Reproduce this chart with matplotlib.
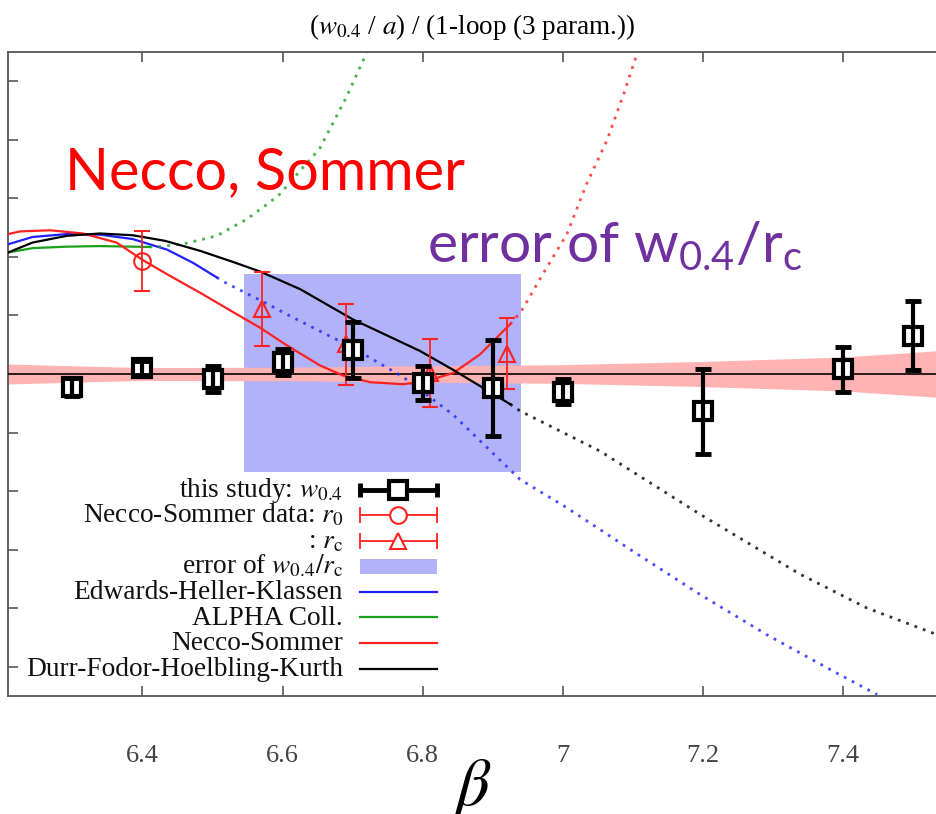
import matplotlib
matplotlib.use("Agg")
import matplotlib.pyplot as plt
from matplotlib.patches import Rectangle

plt.rcParams['font.family'] = ['Liberation Serif', 'DejaVu Serif']
plt.rcParams['mathtext.fontset'] = 'stix'
# fonts for math_fontfamily='custom' (the slide annotations)
plt.rcParams['mathtext.rm'] = 'Lato'
plt.rcParams['mathtext.it'] = 'Lato'
plt.rcParams['mathtext.bf'] = 'Lato:bold'

# this study: w_0.4 / (1-loop fit)
beta_w = [6.3, 6.4, 6.5, 6.6, 6.7, 6.8, 6.9, 7.0, 7.2, 7.4, 7.5]
ratio_w = [0.9956, 1.0020, 0.9983, 1.0040, 1.0082, 0.9969, 0.9953, 0.9940, 0.9872, 1.0016, 1.0131]
err_w = [0.0030, 0.0025, 0.0044, 0.0045, 0.0094, 0.0058, 0.0164, 0.0044, 0.0144, 0.0076, 0.0117]

# Necco-Sommer data
beta_r0 = [6.4]
ratio_r0 = [1.0386]
err_r0 = [0.0104]
beta_rc = [6.57, 6.69, 6.81, 6.92]
ratio_rc = [1.0222, 1.0101, 1.0004, 1.0070]
err_rc = [0.0128, 0.0137, 0.0117, 0.0122]

# error of w_0.4/r_c (box) and fit uncertainty band
box_beta = [6.545, 6.941]
box_ratio = [0.9665, 1.0340]
band_beta = [6.208, 6.4, 6.6, 6.8, 7.0, 7.2, 7.4, 7.533]
band_half = [0.0034, 0.0022, 0.0023, 0.0028, 0.0032, 0.0043, 0.0058, 0.0079]

# interpolation formulae, solid inside their range of validity, dotted outside
ehk_beta = [6.208, 6.243, 6.292, 6.339, 6.386, 6.435, 6.472, 6.506]
ehk_ratio = [1.0443, 1.0468, 1.0478, 1.0476, 1.0461, 1.0425, 1.0380, 1.0330]
ehk_beta_x = [6.506, 6.520, 6.578, 6.606, 6.700, 6.772, 6.843, 6.939, 7.006, 7.100, 7.196, 7.291, 7.386, 7.449]
ehk_ratio_x = [1.0330, 1.0310, 1.0240, 1.0204, 1.0090, 0.9990, 0.9862, 0.9640, 0.9543, 0.9395, 0.9247, 0.9110, 0.8985, 0.8905]

alpha_beta = [6.208, 6.243, 6.292, 6.339, 6.410]
alpha_ratio = [1.0415, 1.0430, 1.0435, 1.0437, 1.0434]
alpha_beta_x = [6.410, 6.425, 6.463, 6.506, 6.549, 6.578, 6.596, 6.625, 6.653, 6.691, 6.720]
alpha_ratio_x = [1.0434, 1.0435, 1.0447, 1.0472, 1.0529, 1.0580, 1.0614, 1.0694, 1.0770, 1.0945, 1.1097]

ns_beta = [6.208, 6.225, 6.268, 6.315, 6.363, 6.400, 6.435, 6.482, 6.529, 6.568, 6.606,
           6.653, 6.686, 6.725, 6.772, 6.806, 6.844, 6.882, 6.925]
ns_ratio = [1.0478, 1.0487, 1.0491, 1.0480, 1.0449, 1.0390, 1.0341, 1.0278, 1.0212, 1.0158, 1.0098,
            1.0030, 0.9995, 0.9972, 0.9965, 0.9976, 1.0004, 1.0067, 1.0170]
ns_beta_x = [6.925, 6.941, 6.977, 7.006, 7.034, 7.063, 7.087, 7.106]
ns_ratio_x = [1.0170, 1.0215, 1.0363, 1.0478, 1.0649, 1.0797, 1.0956, 1.1093]

dfhk_beta = [6.208, 6.243, 6.292, 6.339, 6.386, 6.432, 6.482, 6.529, 6.568, 6.625, 6.700, 6.796, 6.843, 6.925]
dfhk_ratio = [1.0415, 1.0449, 1.0472, 1.0480, 1.0474, 1.0455, 1.0421, 1.0383, 1.0350, 1.0290, 1.0187, 1.0079, 1.0015, 0.9897]
dfhk_beta_x = [6.925, 6.939, 7.053, 7.196, 7.339, 7.434, 7.533]
dfhk_ratio_x = [0.9897, 0.9874, 0.9737, 0.9521, 0.9316, 0.9201, 0.9111]

xticks = [6.4, 6.6, 6.8, 7.0, 7.2, 7.4]
xticklabels = ['6.4', '6.6', '6.8', '7', '7.2', '7.4']
yticks = [0.90, 0.92, 0.94, 0.96, 0.98, 1.00, 1.02, 1.04, 1.06, 1.08, 1.10]

C_BLUE, C_GREEN, C_RED = '#2020ff', '#1aa01a', '#ff2020'
C_BOX, C_BAND = '#b2b2f9', '#ffb3b3'
DOT = (0, (1, 2.2))

fig = plt.figure(figsize=(9.36, 8.14), dpi=100)
ax = fig.add_axes([8 / 936, 118 / 814, 928 / 936, 644 / 814])
ax.set_xlim(6.208, 7.533)
ax.set_ylim(0.89, 1.11)

ax.add_patch(Rectangle((box_beta[0], box_ratio[0]), box_beta[1] - box_beta[0],
                       box_ratio[1] - box_ratio[0], color=C_BOX, lw=0, zorder=1))
ax.fill_between(band_beta, [1 - h for h in band_half], [1 + h for h in band_half],
                color=C_BAND, lw=0, zorder=2)
ax.axhline(1.0, color='k', lw=1.2, zorder=3)

for b, r, bx, rx, c in [(ehk_beta, ehk_ratio, ehk_beta_x, ehk_ratio_x, C_BLUE),
                        (alpha_beta, alpha_ratio, alpha_beta_x, alpha_ratio_x, C_GREEN),
                        (ns_beta, ns_ratio, ns_beta_x, ns_ratio_x, C_RED),
                        (dfhk_beta, dfhk_ratio, dfhk_beta_x, dfhk_ratio_x, 'k')]:
    ax.plot(b, r, color=c, lw=1.6, zorder=3, solid_joinstyle='round')
    ax.plot(bx, rx, color=c, lw=2.0, ls=DOT, alpha=0.8, zorder=3)

ax.errorbar(beta_r0, ratio_r0, yerr=err_r0, fmt='o', ms=12, mfc='none', mec=C_RED, mew=1.5,
            ecolor=C_RED, elinewidth=1.3, capsize=6, capthick=1.3, zorder=4)
ax.errorbar(beta_rc, ratio_rc, yerr=err_rc, fmt='^', ms=12, mfc='none', mec=C_RED, mew=1.5,
            ecolor=C_RED, elinewidth=1.3, capsize=6, capthick=1.3, zorder=4)

ax.plot(beta_w, ratio_w, 's', ms=13, mfc='white', mec='k', mew=3, zorder=5)
ax.errorbar(beta_w, ratio_w, yerr=err_w, fmt='none', ecolor='k', elinewidth=3,
            capsize=6, capthick=3.5, zorder=6)

# key, gnuplot style: right-aligned text, sample on the right
tx, sx0, sx1 = 0.361, 0.379, 0.462
rows = [0.3199 - 0.0396 * i for i in range(8)]
labels = [r'this study: $w_{0.4}$', r'Necco-Sommer data: $r_0$', r': $r_\mathrm{c}$',
          r'error of $w_{0.4}/r_\mathrm{c}$', 'Edwards-Heller-Klassen', 'ALPHA Coll.',
          'Necco-Sommer', 'Durr-Fodor-Hoelbling-Kurth']
kw = dict(transform=ax.transAxes, clip_on=False, zorder=7)
for y, lab in zip(rows, labels):
    ax.text(tx, y - 0.011, lab, ha='right', va='baseline', fontsize=19.7, color='#111111', **kw)
ax.plot([sx0, sx1], [rows[0]] * 2, color='k', lw=3.5, **kw)
ax.plot([sx0, sx1], [rows[0]] * 2, ls='none', marker='|', ms=10, mew=3.5, color='k', **kw)
ax.plot([(sx0 + sx1) / 2], [rows[0]], 's', ms=13, mfc='white', mec='k', mew=3, **kw)
for y, m in [(rows[1], 'o'), (rows[2], '^')]:
    ax.plot([sx0, sx1], [y] * 2, color=C_RED, lw=1.3, **kw)
    ax.plot([sx0, sx1], [y] * 2, ls='none', marker='|', ms=11, mew=1.3, color=C_RED, **kw)
    ax.plot([(sx0 + sx1) / 2], [y], m, ms=12, mfc='white', mec=C_RED, mew=1.5, **kw)
ax.add_patch(Rectangle((sx0, rows[3] - 0.011), sx1 - sx0, 0.022, color=C_BOX, lw=0,
                       transform=ax.transAxes, zorder=7))
for y, c in zip(rows[4:], [C_BLUE, C_GREEN, C_RED, 'k']):
    ax.plot([sx0, sx1], [y] * 2, color=c, lw=1.6, **kw)

ax.text(0.0614, 0.7873, 'Necco, Sommer', color='#ff0000', fontsize=41.5,
        family='Lato', transform=ax.transAxes, zorder=8)
ax.text(0.4515, 0.6739, r'error of w$_{0.4}$/r$_\mathrm{c}$', color='#7030a0', fontsize=41,
        family='Lato', math_fontfamily='custom', transform=ax.transAxes, zorder=8)

ax.set_xticks(xticks)
ax.set_xticklabels(xticklabels)
ax.set_yticks(yticks)
ax.tick_params(direction='in', length=7, width=1.2, color='#555555', top=True, right=False,
               labelleft=False, labelsize=19, labelcolor='#444444', pad=35)
for side in ['left', 'bottom', 'top']:
    ax.spines[side].set_color('#555555')
    ax.spines[side].set_linewidth(1.3)
ax.spines['right'].set_visible(False)

ax.set_xlabel(r'$\beta$', fontsize=48, labelpad=-7)
ax.set_title(r'($w_{0.4}$ / $a$) / (1-loop (3 param.))', fontsize=19.5, pad=13)

fig.savefig('out.png', dpi=100)
